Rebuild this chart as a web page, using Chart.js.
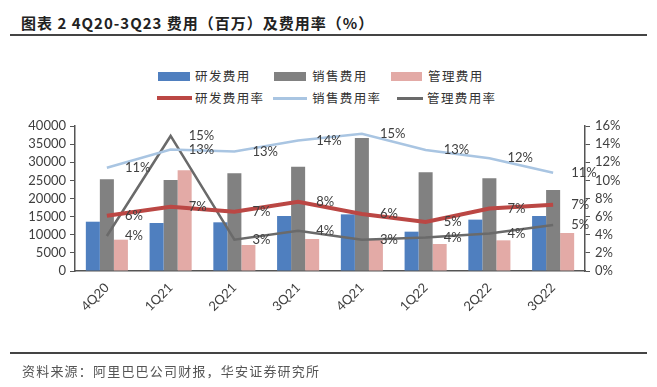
<!DOCTYPE html>
<html>
<head>
<meta charset="utf-8">
<script src="https://cdn.jsdelivr.net/npm/chart.js@4"></script>
<style>
  html,body{margin:0;padding:0;background:#fff;}
  #wrap{position:relative;width:657px;height:387px;overflow:hidden;font-family:"Noto Sans CJK SC",sans-serif;}
  #c{position:absolute;left:0;top:0;}
  .title{position:absolute;left:21px;top:12px;font-size:15px;font-weight:bold;color:#222;letter-spacing:1px;white-space:nowrap;}
  .rule{position:absolute;left:10px;width:637px;height:1.5px;background:#444;}
  .src{position:absolute;left:22px;top:361px;font-size:13px;color:#555;letter-spacing:1.2px;white-space:nowrap;}
  .lg{position:absolute;font-size:12.5px;color:#333;letter-spacing:1.4px;white-space:nowrap;line-height:14px;}
  .sw{position:absolute;}
</style>
</head>
<body>
<div id="wrap">
  <div class="title">图表 2 4Q20-3Q23 费用（百万）及费用率（%）</div>
  <div class="rule" style="top:34px"></div>

  <div class="sw" style="left:158px;top:72px;width:32px;height:9px;background:#4f7fbf"></div>
  <div class="lg" style="left:195px;top:69px">研发费用</div>
  <div class="sw" style="left:274px;top:72px;width:32px;height:9px;background:#818181"></div>
  <div class="lg" style="left:312px;top:69px">销售费用</div>
  <div class="sw" style="left:391px;top:72px;width:31px;height:9px;background:#e3aaa6"></div>
  <div class="lg" style="left:428px;top:69px">管理费用</div>

  <div class="sw" style="left:157px;top:96px;width:35px;height:4px;background:#bb4744"></div>
  <div class="lg" style="left:195px;top:91px">研发费用率</div>
  <div class="sw" style="left:273px;top:97px;width:34px;height:2.5px;background:#a9c5e2"></div>
  <div class="lg" style="left:312px;top:91px">销售费用率</div>
  <div class="sw" style="left:397px;top:97px;width:26px;height:2.5px;background:#6a6a6a"></div>
  <div class="lg" style="left:427px;top:91px">管理费用率</div>

  <canvas id="c" width="657" height="387"></canvas>

  <div class="rule" style="top:352px"></div>
  <div class="src">资料来源：阿里巴巴公司财报，华安证券研究所</div>
</div>
<script>
const quarters = ["4Q20","1Q21","2Q21","3Q21","4Q21","1Q22","2Q22","3Q22"];
const rdCost    = [13600, 13240, 13430, 15170, 15630, 10850, 14170, 15170];
const salesCost = [25300, 25100, 26950, 28780, 36690, 27220, 25560, 22340];
const mgmtCost  = [8640, 27780, 7170, 8830, 8550, 7450, 8460, 10480];
const rdRate    = [6.1, 7.1, 6.55, 7.65, 6.3, 5.4, 6.9, 7.3];
const salesRate = [11.4, 13.4, 13.2, 14.4, 15.15, 13.35, 12.45, 10.85];
const mgmtRate  = [3.86, 14.9, 3.45, 4.45, 3.45, 3.7, 4.15, 5.07];

const axisColor = "#555";
const textColor = "#404040";
const font13 = { family: "Lato, sans-serif", size: 13 };

// labels to the right of each line point, like the excel original
const rateLabels = {
  id: "rateLabels",
  afterDatasetsDraw(chart){
    const ctx = chart.ctx;
    ctx.save();
    ctx.font = "13px Lato, sans-serif";
    ctx.fillStyle = textColor;
    ctx.textAlign = "left";
    ctx.textBaseline = "middle";
    chart.data.datasets.forEach((ds, i) => {
      if(ds.type !== "line") return;
      const meta = chart.getDatasetMeta(i);
      meta.data.forEach((pt, j) => {
        ctx.fillText(Math.round(ds.data[j]) + "%", pt.x + 18, pt.y);
      });
    });
    ctx.restore();
  }
};

new Chart(document.getElementById("c").getContext("2d"), {
  data: {
    labels: quarters,
    datasets: [
      { type:"line", label:"研发费用率", data: rdRate, yAxisID:"y1", borderColor:"#bb4744", borderWidth:4, pointRadius:0, tension:0, order:0 },
      { type:"line", label:"销售费用率", data: salesRate, yAxisID:"y1", borderColor:"#a9c5e2", borderWidth:2.5, pointRadius:0, tension:0, order:0 },
      { type:"line", label:"管理费用率", data: mgmtRate, yAxisID:"y1", borderColor:"#6a6a6a", borderWidth:2.5, pointRadius:0, tension:0, order:0 },
      { type:"bar", label:"研发费用", data: rdCost, yAxisID:"y", backgroundColor:"#4f7fbf", order:1 },
      { type:"bar", label:"销售费用", data: salesCost, yAxisID:"y", backgroundColor:"#818181", order:1 },
      { type:"bar", label:"管理费用", data: mgmtCost, yAxisID:"y", backgroundColor:"#e3aaa6", order:1 }
    ]
  },
  options: {
    responsive:false,
    animation:false,
    layout:{ padding:{ top:126, left:0, right:0, bottom:0 } },
    datasets:{ bar:{ categoryPercentage:0.66, barPercentage:1.0 } },
    plugins:{ legend:{ display:false }, tooltip:{ enabled:false } },
    scales:{
      x:{
        grid:{ display:false, drawTicks:false },
        border:{ color:axisColor, width:1.5 },
        ticks:{ color:textColor, font:font13, minRotation:45, maxRotation:45, padding:9 },
        afterFit(s){ s.height = 116; }
      },
      y:{
        position:"left", min:0, max:40000,
        grid:{ drawOnChartArea:false, color:axisColor, tickLength:5 },
        border:{ color:axisColor, width:1.5 },
        ticks:{ stepSize:5000, autoSkip:false, color:textColor, font:font13, padding:4, callback:v => String(v) },
        afterFit(s){ s.width = 75; }
      },
      y1:{
        position:"right", min:0, max:16,
        grid:{ drawOnChartArea:false, color:axisColor, tickLength:5 },
        border:{ color:axisColor, width:1.5 },
        ticks:{ stepSize:2, autoSkip:false, color:textColor, font:font13, padding:5, callback:v => v + "%" },
        afterFit(s){ s.width = 72; }
      }
    }
  },
  plugins:[rateLabels]
});
</script>
</body>
</html>
